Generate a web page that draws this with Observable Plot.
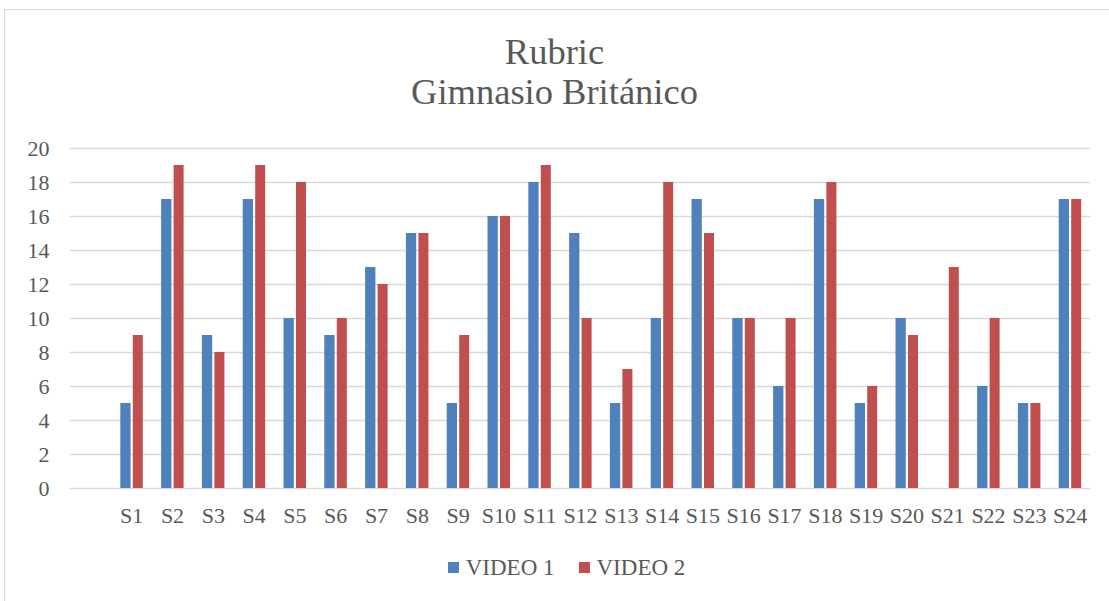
<!DOCTYPE html>
<html>
<head>
<meta charset="utf-8">
<script src="https://cdn.jsdelivr.net/npm/d3@7"></script>
<script src="https://cdn.jsdelivr.net/npm/@observablehq/plot@0.6"></script>
<style>
  html, body { margin: 0; padding: 0; background: #fff; width: 1109px; height: 601px; overflow: hidden; }
  body { font-family: "Liberation Serif", "Times New Roman", serif; color: #595959; position: relative; }
  #frame { position: absolute; left: 4px; top: 9px; width: 1200px; height: 700px; border: 1px solid #d9d9d9; box-sizing: border-box; pointer-events: none; }
  #title { height: 120px; box-sizing: border-box; padding-top: 32px; text-align: center; font-size: 36.5px; line-height: 40px; color: #595959; }
  #chart { height: 420px; }
  #chart svg { display: block; }
  #legend { height: 61px; display: flex; justify-content: center; align-items: center; font-size: 23px; color: #595959; padding-left: 24px; padding-bottom: 6px; box-sizing: border-box; }
  .item { display: flex; align-items: center; margin: 0 12px; }
  .sw { width: 11px; height: 11px; margin-right: 7px; }
</style>
</head>
<body>
<div id="frame"></div>
<div id="title">Rubric<br>Gimnasio Británico</div>
<div id="chart"></div>
<div id="legend"></div>
<script>
const categories = ["S1","S2","S3","S4","S5","S6","S7","S8","S9","S10","S11","S12","S13","S14","S15","S16","S17","S18","S19","S20","S21","S22","S23","S24"];
const video1 = [5,17,9,17,10,9,13,15,5,16,18,15,5,10,17,10,6,17,5,10,0,6,5,17];
const video2 = [9,19,8,19,18,10,12,15,9,16,19,10,7,18,15,10,10,18,6,9,13,10,5,17];
const seriesNames = ["VIDEO 1", "VIDEO 2"];
const seriesColors = ["#4f81bd", "#c0504d"];
const yTicks = [0,2,4,6,8,10,12,14,16,18,20];

const data = categories.map((c, i) => ({cat: c, v1: video1[i], v2: video2[i]}));

const chart = Plot.plot({
  width: 1109,
  height: 420,
  marginTop: 28,
  marginBottom: 52,
  marginLeft: 70,
  marginRight: 19,
  style: {fontFamily: '"Liberation Serif", "Times New Roman", serif', fontSize: "22px", color: "#595959", background: "transparent"},
  x: {type: "band", domain: ["", ...categories], padding: 0, round: false, label: null},
  y: {domain: [0, 20], label: null},
  marks: [
    Plot.gridY(yTicks, {stroke: "#d9d9d9", strokeOpacity: 1, strokeWidth: 1.4}),
    Plot.axisY(yTicks, {tickSize: 0, tickPadding: 21, fontSize: 22, fill: "#595959", label: null}),
    Plot.axisX(categories, {tickSize: 0, tickPadding: 19, fontSize: 22, fill: "#595959", label: null}),
    Plot.barY(data, {x: "cat", y: "v1", fill: seriesColors[0], insetLeft: 9.5, insetRight: 21}),
    Plot.barY(data, {x: "cat", y: "v2", fill: seriesColors[1], insetLeft: 22, insetRight: 8.8})
  ]
});
document.getElementById("chart").appendChild(chart);

const legend = document.getElementById("legend");
seriesNames.forEach((n, i) => {
  const item = document.createElement("div");
  item.className = "item";
  const sw = document.createElement("div");
  sw.className = "sw";
  sw.style.background = seriesColors[i];
  const t = document.createElement("span");
  t.textContent = n;
  item.appendChild(sw);
  item.appendChild(t);
  legend.appendChild(item);
});
</script>
</body>
</html>
